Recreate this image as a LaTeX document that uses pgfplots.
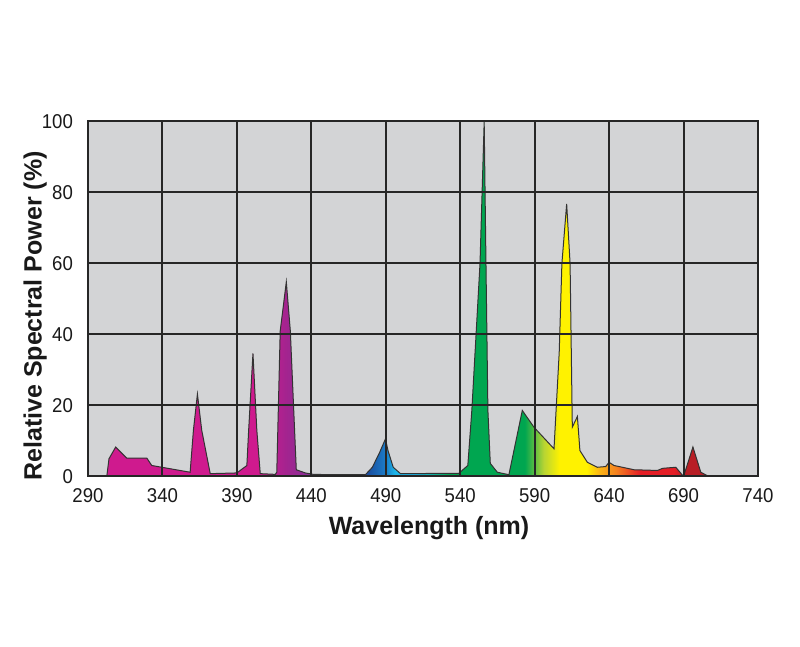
\documentclass[border=0pt]{standalone}
\usepackage{fontspec}
\setmainfont{Liberation Sans}
\newfontfamily\narrowfont[FakeStretch=0.93]{Liberation Sans}
\usepackage{pgfplots}
\pgfplotsset{compat=1.18}

\definecolor{panel}{HTML}{D3D4D6}
\definecolor{gridc}{HTML}{262626}
\definecolor{cMag}{HTML}{CF1A8E}
\definecolor{cPur}{HTML}{A3248F}
\definecolor{cPur2}{HTML}{86309A}
\definecolor{cVio}{HTML}{5C45A8}
\definecolor{cBlu}{HTML}{1A4FA0}
\definecolor{cBlu2}{HTML}{1B7CC8}
\definecolor{cCya}{HTML}{1CB5E8}
\definecolor{cTeal}{HTML}{10AD9A}
\definecolor{cGrn}{HTML}{00A650}
\definecolor{cYG}{HTML}{B7D433}
\definecolor{cYel}{HTML}{FFF200}
\definecolor{cOrY}{HTML}{FBB316}
\definecolor{cOra}{HTML}{F58220}
\definecolor{cRed}{HTML}{E51E26}
\definecolor{cDRed}{HTML}{B81E25}

% wavelength 290..740 nm -> 25..75 bp
\pgfdeclarehorizontalshading{spectrum}{100bp}{%
  color(0bp)=(cMag); color(25bp)=(cMag); color(38bp)=(cMag);
  color(39.8bp)=(cPur); color(41.7bp)=(cPur2); color(44.6bp)=(cVio);
  color(45.9bp)=(cBlu); color(47.2bp)=(cBlu2); color(47.9bp)=(cCya);
  color(49.4bp)=(cCya); color(50.8bp)=(cTeal); color(52bp)=(cGrn);
  color(57.6bp)=(cGrn); color(59bp)=(cYG); color(60.2bp)=(cYel);
  color(62.2bp)=(cYel); color(63.2bp)=(cOrY); color(64.4bp)=(cOra);
  color(66.2bp)=(cRed); color(68.7bp)=(cRed); color(69.6bp)=(cDRed);
  color(75bp)=(cDRed); color(100bp)=(cDRed)}

\begin{document}
\begin{tikzpicture}
\path[use as bounding box] (-44pt,-85.25pt) rectangle (356pt,238.25pt);
\begin{axis}[
  scale only axis,
  width=335pt, height=177.5pt,
  xmin=290, xmax=740, ymin=0, ymax=100,
  xtick={290,340,...,740}, ytick={0,20,...,100},
  axis on top,
  axis background/.style={fill=panel},
  grid=major,
  major grid style={gridc, line width=1pt},
  axis line style={gridc, line width=1pt},
  major tick length=0pt,
  /pgf/number format/assume math mode=true,
  /pgf/number format/1000 sep={},
  tick label style={font=\narrowfont\fontsize{10}{12}\selectfont, text=black!90},
  xticklabel style={yshift=-2.6pt},
  yticklabel style={xshift=-4pt},
  xlabel={Wavelength (nm)},
  ylabel={Relative Spectral Power (\%)},
  label style={font=\bfseries\fontsize{12.5}{14}\selectfont, text=black!90},
  xlabel style={at={(axis description cs:0.509,-0.145)}, anchor=center},
  ylabel style={at={(axis description cs:-0.079,0.452)}, anchor=center, rotate=0},
]
\addplot[draw=black!80, line width=0.5pt, shade, shading=spectrum] coordinates {
  (290,0) (302.6,0) (304.1,5) (308.6,8.3) (316,5.2) (329.5,5.2) (332.8,3.1)
  (358.6,1.2) (360.8,13) (363.5,23.2) (366.4,13) (372.1,0.8)
  (390,1.0) (396.7,3.1) (397.9,13) (400.8,34.7) (403.4,13) (405.7,0.8)
  (415.8,0.6) (416.8,1.2) (419.1,41) (423.2,54.8) (425.9,41) (429.9,1.9)
  (436,1.0) (441.3,0.6) (455,0.5) (476.3,0.5) (481,2.6) (486,6.9)
  (489.8,10.6) (491.5,7.3) (495,2.6) (499.9,0.8) (539.1,0.9) (545.1,3.1)
  (547.8,18.6) (553.3,60) (556.1,100) (557.3,60) (558.6,18.6) (560.2,3.7)
  (564.9,1.2) (572.7,0.5) (581.7,18.6) (589.5,13.9) (603,7.8)
  (606.5,35) (608.3,60) (611.5,76.8) (613.8,60) (615.3,13.9) (618.7,16.9)
  (620.4,7.3) (625.4,4.0) (632.1,2.6) (637.7,2.8) (640,4.0) (643.3,3.1)
  (656.8,1.9) (672.5,1.7) (675.9,2.3) (684.8,2.6) (690,0) (696.3,8.3)
  (701.6,1.2) (706.1,0.2) (740,0)
} \closedcycle;
\end{axis}
\end{tikzpicture}
\end{document}
